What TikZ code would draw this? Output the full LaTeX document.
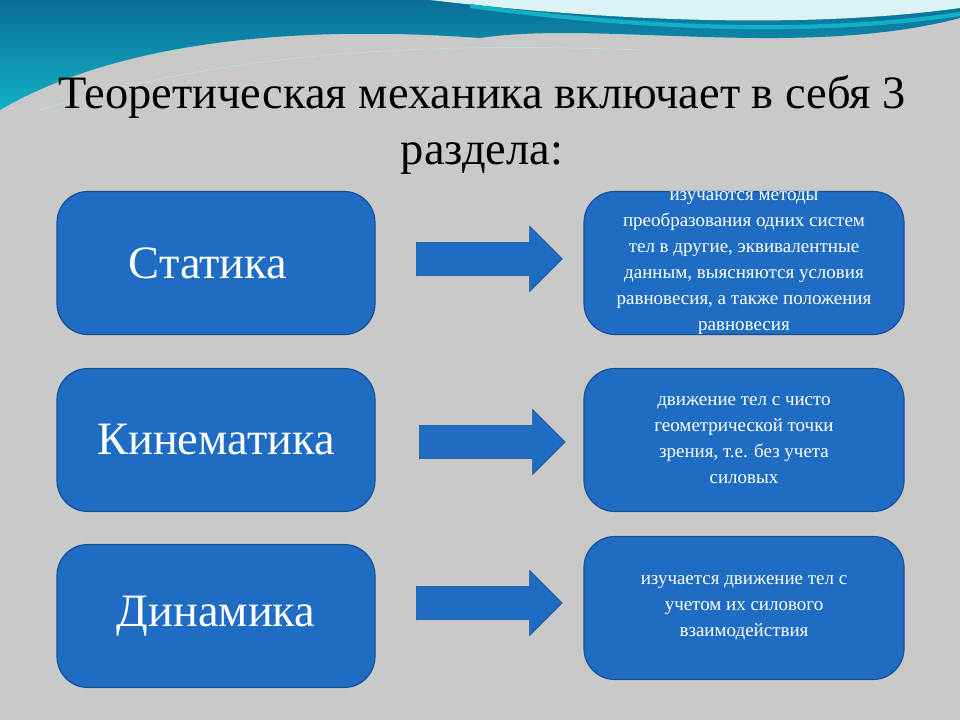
\documentclass[tikz,border=0pt]{standalone}
\usepackage{fontspec}
\setmainfont{Liberation Serif}[Ligatures=TeX]
\usetikzlibrary{positioning, shapes.arrows}
\definecolor{boxblue}{HTML}{1F6CC4}
\definecolor{boxedge}{HTML}{164F8F}
\definecolor{seatop}{HTML}{0A6E97}
\definecolor{sealow}{HTML}{12B0C4}
\tikzset{
  part/.style={rectangle, rounded corners=22pt, draw=boxedge, thick, fill=boxblue,
    minimum width=318*0.025cm, minimum height=143*0.025cm, text=white,
    font=\rmfamily\fontsize{33}{38}\selectfont},
  info/.style={rectangle, rounded corners=22pt, draw=boxedge, thick, fill=boxblue,
    minimum width=320*0.025cm, minimum height=143*0.025cm, text=white, align=center,
    font=\rmfamily\fontsize{13.5}{18.6}\selectfont},
  infotext/.style={text=white, align=center, font=\rmfamily\fontsize{13.5}{18.6}\selectfont},
  blockarrow/.style={single arrow, draw=boxedge, fill=boxblue,
    inner xsep=0pt, inner ysep=0.41cm, single arrow head extend=0.4cm,
    minimum height=146*0.025cm}
}
\begin{document}
\begin{tikzpicture}[x=0.025cm, y=-0.025cm]
\useasboundingbox (0,0) rectangle (960,720);
% background
\fill[gray!42] (0,0) rectangle (960,720);
\shade[top color=seatop, bottom color=sealow]
  (0,0) -- (960,0) -- (960,18) .. controls (800,60) and (600,20) .. (480,38)
  .. controls (300,25) and (120,40) .. (0,110) -- cycle;
\fill[white!85!sealow] (430,0) .. controls (600,20) and (800,30) .. (960,8) -- (960,0) -- cycle;
\draw[sealow, line width=3pt] (470,6) .. controls (650,30) and (820,35) .. (960,14);
\draw[white!70!sealow, thin] (40,110) .. controls (200,60) and (380,40) .. (640,50);

% title
\node (title) at (482,125) [align=center, font=\rmfamily\fontsize{33}{40}\selectfont]
  {Теоретическая механика включает в себя 3\\раздела:};

%------------------left column----------------------
\node (stat) [part] at (216,263) {Статика\hspace*{0.4cm}};
\node (kin) [part] at (216,440) {Кинематика};
\node (dyn) [part] at (216,616) {Динамика};

%------------------right column---------------------
\node (statinfo) [info, label={[infotext]center:изучаются методы\\ преобразования одних систем\\ тел в другие, эквивалентные\\ данным, выясняются условия\\ равновесия, а также положения\\ равновесия}] at (744,263) {};
\node (kininfo) [info] at (744,440) {движение тел с чисто\\ геометрической точки\\ зрения, т.е. без учета\\ силовых};
\node (dyninfo) [info] at (744,608) {изучается движение тел с\\ учетом их силового\\ взаимодействия};

%------------------arrows---------------------------
\node (arr1) [blockarrow] at (481,259) {};
\node (arr2) [blockarrow] at (484,442) {};
\node (arr3) [blockarrow] at (481,603) {};
\end{tikzpicture}
\end{document}
